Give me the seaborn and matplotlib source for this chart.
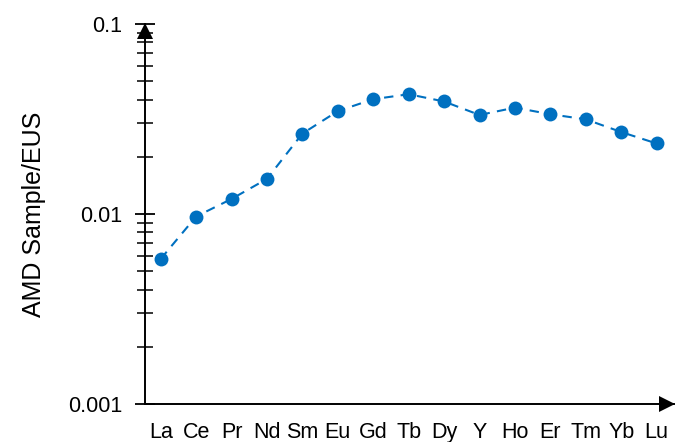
import matplotlib
matplotlib.use("Agg")
import matplotlib.pyplot as plt
import matplotlib.transforms as mtransforms
from matplotlib.ticker import LogLocator, FixedLocator, NullFormatter
import seaborn as sns
import pandas as pd

elements = ["La", "Ce", "Pr", "Nd", "Sm", "Eu", "Gd", "Tb", "Dy", "Y", "Ho", "Er", "Tm", "Yb", "Lu"]
values = [0.0058, 0.0097, 0.0120, 0.0153, 0.0265, 0.0348, 0.0402, 0.0427, 0.0391,
          0.0332, 0.0363, 0.0335, 0.0315, 0.0270, 0.0235]
y_ticks = [0.001, 0.01, 0.1]
y_ticklabels = ["0.001", "0.01", "0.1"]
y_label = "AMD Sample/EUS"

df = pd.DataFrame({"element": elements, "value": values})

sns.set_style("white")
plt.rcParams["font.family"] = ["Liberation Sans", "DejaVu Sans"]
plt.rcParams["text.color"] = "black"
plt.rcParams["axes.labelcolor"] = "black"

fig = plt.figure(figsize=(6.83, 4.42), dpi=100)
ax = fig.add_axes([145 / 683, 1 - 404 / 442, (674 - 145) / 683, 380 / 442])

ax.set_yscale("log")
sns.pointplot(data=df, x="element", y="value", color="#0070C0", linestyles="--",
              markers="o", errorbar=None, ax=ax, markersize=10, linewidth=1.5)
for ln in ax.lines:
    ln.set_dashes([4.5, 3.5])
    ln.set_markeredgewidth(0)

ax.set_ylim(0.001, 0.1)
ax.set_xlim(-0.443, 14.49)

ax.yaxis.set_major_locator(FixedLocator(y_ticks))
ax.set_yticklabels(y_ticklabels)
ax.yaxis.set_minor_locator(LogLocator(base=10, subs=[2, 3, 4, 5, 6, 7, 8, 9], numticks=20))
ax.yaxis.set_minor_formatter(NullFormatter())

ax.tick_params(axis="y", which="major", direction="inout", length=15, width=1.3,
               labelsize=15.5, pad=9, colors="black", left=True)
ax.tick_params(axis="y", which="minor", direction="inout", length=11, width=1.1,
               colors="black", left=True)
ax.tick_params(axis="x", which="both", length=0, labelsize=15.5, pad=13, colors="black")

for side in ["top", "right"]:
    ax.spines[side].set_visible(False)
for side in ["left", "bottom"]:
    ax.spines[side].set_color("black")
    ax.spines[side].set_linewidth(1.4)

ax.set_xlabel("")
ax.set_ylabel(y_label, fontsize=18, labelpad=16, color="black")

# axis arrows
tr_up = mtransforms.offset_copy(ax.transAxes, fig=fig, x=0, y=-7.5, units="dots")
ax.plot([0], [1], marker="^", markersize=11, color="black", transform=tr_up,
        clip_on=False, markeredgewidth=0)
tr_right = mtransforms.offset_copy(ax.transAxes, fig=fig, x=-7, y=0, units="dots")
ax.plot([1], [0], marker=">", markersize=11, color="black", transform=tr_right,
        clip_on=False, markeredgewidth=0)

fig.savefig("out.png", dpi=100)
